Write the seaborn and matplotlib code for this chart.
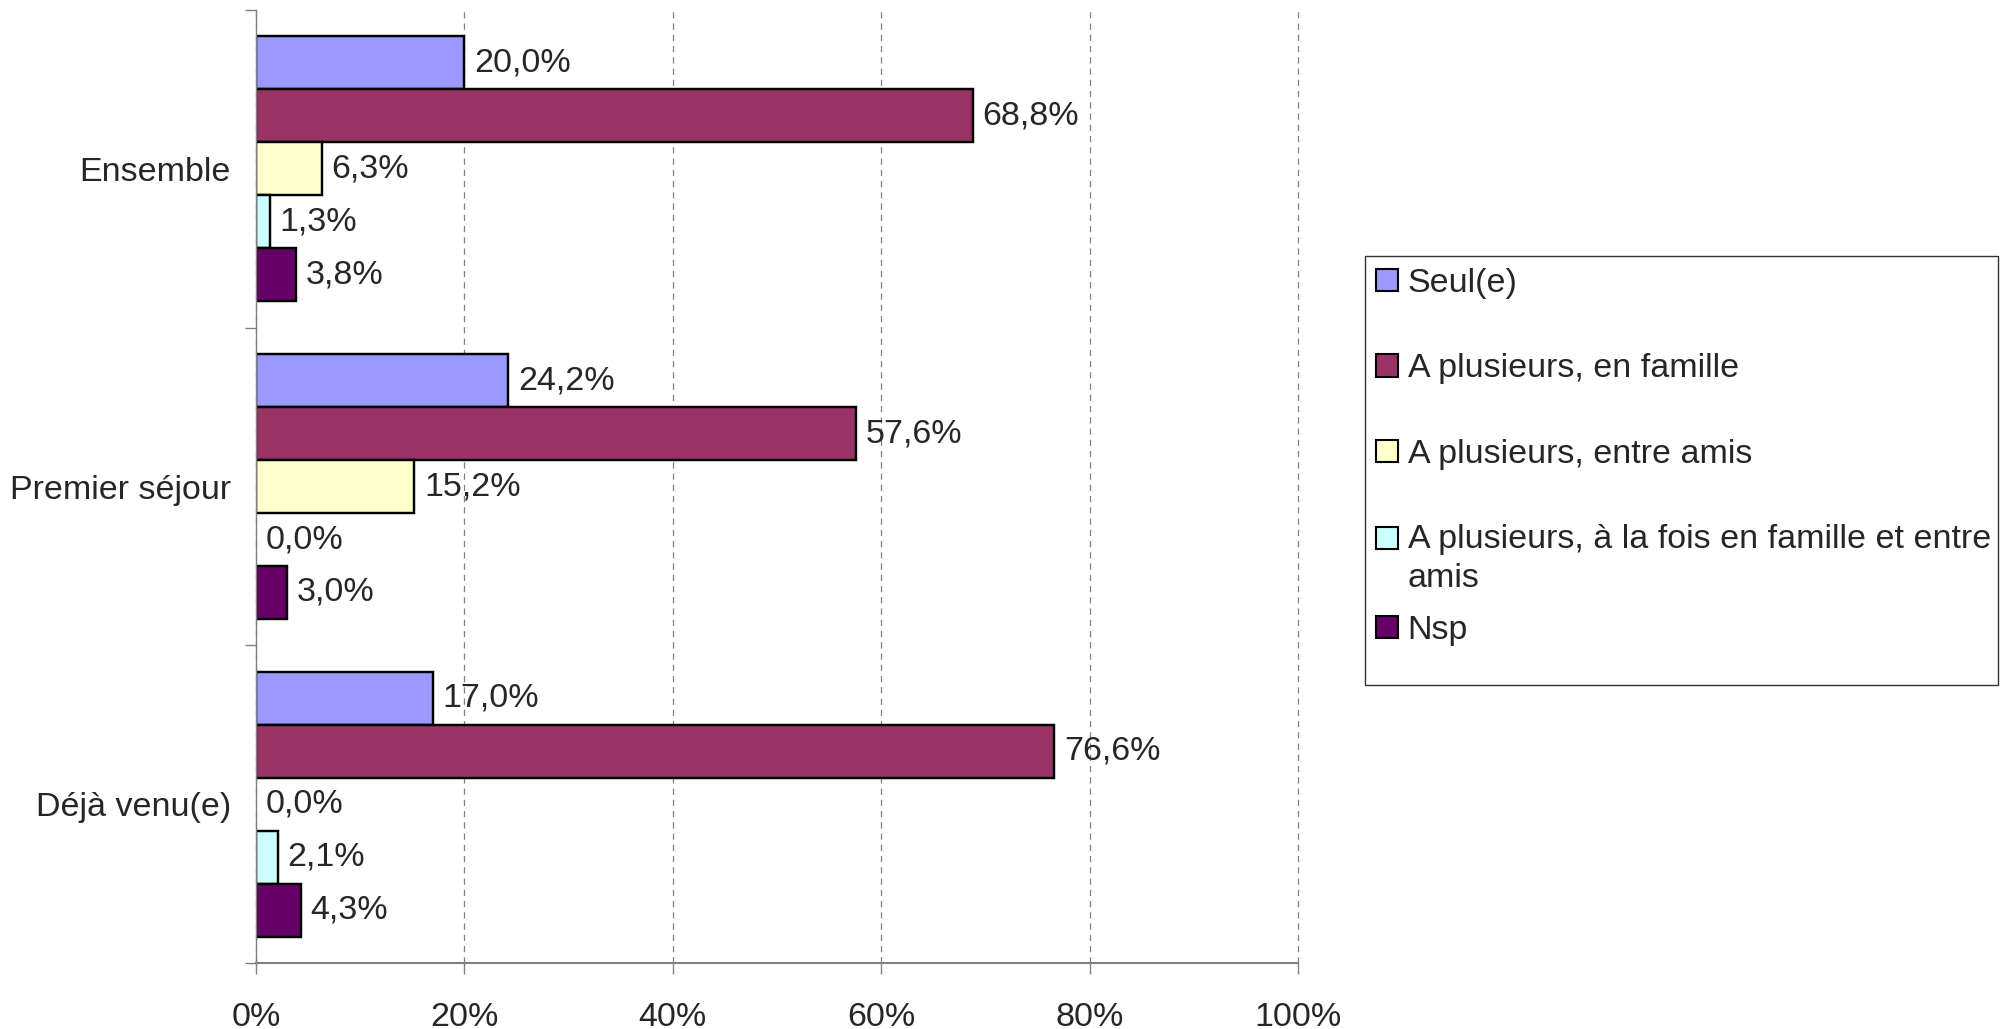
import matplotlib
matplotlib.use("Agg")
import matplotlib.pyplot as plt
import matplotlib.patches as mpatches
from matplotlib.offsetbox import TextArea
import seaborn as sns
import pandas as pd

# Data: share of visitors by travel company, per visitor group
groups = ["Ensemble", "Premier séjour", "Déjà venu(e)"]
series = ["Seul(e)", "A plusieurs, en famille", "A plusieurs, entre amis",
          "A plusieurs, à la fois en famille et entre\namis", "Nsp"]
seul = [20.0, 24.2, 17.0]
famille = [68.8, 57.6, 76.6]
amis = [6.3, 15.2, 0.0]
famille_amis = [1.3, 0.0, 2.1]
nsp = [3.8, 3.0, 4.3]
colors = ["#9999FF", "#993366", "#FFFFCC", "#CCFFFF", "#660066"]
x_ticks = [0, 20, 40, 60, 80, 100]
x_tick_labels = ["0%", "20%", "40%", "60%", "80%", "100%"]

rows = []
for s, vals in zip(series, [seul, famille, amis, famille_amis, nsp]):
    for g, v in zip(groups, vals):
        rows.append({"groupe": g, "mode": s, "part": v})
df = pd.DataFrame(rows)

sns.set_style("white")
plt.rcParams["font.family"] = ["Liberation Sans", "DejaVu Sans"]
FS = 24.5
LINESPACING = 1.3
GREY = "#808080"

fig = plt.figure(figsize=(20, 10.29), dpi=100)
ax = fig.add_axes([0.128, 0.0641, 0.521, 0.9262])

sns.barplot(data=df, y="groupe", x="part", hue="mode", order=groups,
            hue_order=series, palette=colors, width=0.834, edgecolor="black",
            linewidth=1.75, errorbar=None, saturation=1, legend=False,
            orient="h", ax=ax)

def fmt(v):
    return f"{v:.1f}".replace(".", ",") + "%"

for cont in ax.containers:
    for p in cont.patches:
        if p.get_width() == 0:
            p.set_linewidth(0)
    ax.bar_label(cont, labels=[fmt(p.get_width()) for p in cont.patches],
                 padding=7, fontsize=FS)

ax.set_xlim(0, 100)
ax.set_ylim(2.5, -0.5)
ax.set_xticks(x_ticks, x_tick_labels)
ax.set_xlabel("")
ax.set_ylabel("")
ax.xaxis.grid(True, color=GREY, linestyle=(0, (5, 4)), linewidth=0.9)
ax.yaxis.grid(False)
ax.set_axisbelow(True)
for gl in ax.get_xgridlines():
    gl.set_clip_on(False)
for side in ["top", "right"]:
    ax.spines[side].set_visible(False)
ax.spines["left"].set_color(GREY)
ax.spines["left"].set_linewidth(1)
ax.spines["bottom"].set_color(GREY)
ax.spines["bottom"].set_linewidth(1.5)

ax.tick_params(axis="x", which="major", direction="out", length=8, width=1,
               color=GREY, pad=20, labelsize=FS, bottom=True)
ax.set_yticks([0, 1, 2], groups)
ax.tick_params(axis="y", which="major", length=0, pad=18, labelsize=FS)
ax.set_yticks([-0.5, 0.5, 1.5, 2.5], minor=True)
ax.tick_params(axis="y", which="minor", direction="out", length=8, width=1,
               color=GREY, left=True)

# Legend: framed box on the right
handles = [mpatches.Patch(facecolor=c, edgecolor="black", linewidth=1.5)
           for c in colors]
frame = mpatches.Rectangle((1365 / 2000, 1 - 685 / 1029), (1998 - 1365) / 2000,
                           (685 - 256) / 1029, transform=fig.transFigure,
                           facecolor="white", edgecolor="#333333", linewidth=1)
fig.patches.append(frame)

common = dict(loc="upper left", frameon=False, fontsize=FS, handlelength=0.65,
              handleheight=0.65, handletextpad=0.28, borderpad=0,
              borderaxespad=0)
leg1 = fig.legend(handles[:4], series[:4],
                  bbox_to_anchor=(1376 / 2000, 1 - 268 / 1029),
                  labelspacing=1.6, **common)
leg2 = fig.legend(handles[4:], series[4:],
                  bbox_to_anchor=(1376 / 2000, 1 - 615 / 1029), **common)
for leg in (leg1, leg2):
    for t in leg.get_texts():
        t.set_linespacing(LINESPACING)
    for ta in leg.findobj(match=TextArea):
        ta.set_multilinebaseline(False)
# swatches of wrapped labels sit beside the first line of text
LINE_STEP = 26.3  # points between wrapped lines, swatch to first line
for leg in (leg1, leg2):
    for h, t in zip(leg.legend_handles, leg.get_texts()):
        n_extra = t.get_text().count("\n")
        if n_extra:
            h.set_y(h.get_y() + n_extra * LINE_STEP)

fig.savefig("out.png", dpi=100)
